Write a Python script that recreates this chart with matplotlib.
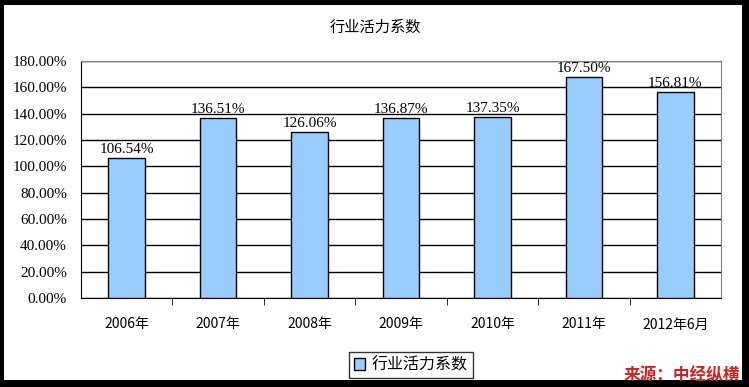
import matplotlib
matplotlib.use("Agg")
import matplotlib.pyplot as plt
from matplotlib.patches import Rectangle
from matplotlib.ticker import FuncFormatter, FixedLocator

categories = ["2006年", "2007年", "2008年", "2009年", "2010年", "2011年", "2012年6月"]
values = [106.54, 136.51, 126.06, 136.87, 137.35, 167.50, 156.81]
series_name = "行业活力系数"
title = "行业活力系数"
source = "来源：中经纵横"

cjk = ["Noto Sans CJK SC", "DejaVu Sans"]
num_font = ["Liberation Serif", "Noto Sans CJK SC"]

fig = plt.figure(figsize=(7.49, 3.87), dpi=100)
fig.patch.set_facecolor("black")
fig.add_artist(Rectangle((4/749, 7/387), 738/749, 375/387, transform=fig.transFigure,
                         facecolor="white", edgecolor="none", zorder=0))

ax = fig.add_axes([81/749, 89/387, 640/749, 237/387])
x = list(range(len(categories)))
bars = ax.bar(x, values, width=0.4, color="#99ccff", edgecolor="black", linewidth=1,
              label=series_name, zorder=3)
ax.set_xlim(-0.5, len(categories) - 0.5)
ax.set_ylim(0, 180)
ax.set_yticks(range(0, 181, 20))
ax.yaxis.set_major_formatter(FuncFormatter(lambda v, p: f"{v:.2f}%"))
ax.grid(axis="y", color="black", linewidth=1, zorder=1)
ax.set_axisbelow(True)
ax.tick_params(axis="y", length=0, labelsize=11, pad=10)
for t in ax.get_yticklabels():
    t.set_family(num_font)

ax.set_xticks(x)
ax.set_xticklabels(categories, family=cjk, fontsize=10)
ax.tick_params(axis="x", length=0, pad=14)
ax.xaxis.set_minor_locator(FixedLocator([i + 0.5 for i in range(len(categories) - 1)]))
ax.tick_params(axis="x", which="minor", length=5, direction="out", color="black")

for s in ["top", "right"]:
    ax.spines[s].set_color("#808080")
for s in ["left", "bottom"]:
    ax.spines[s].set_color("black")

for xi, v in zip(x, values):
    ax.text(xi, v + 1.5, f"{v:.2f}%", ha="center", va="bottom", fontsize=11, family=num_font)

fig.text(375/749, 1 - 27/387, title, ha="center", va="center", fontsize=11, family=cjk)

leg = ax.legend(loc="center", bbox_to_anchor=(411/749, 1 - 365/387), bbox_transform=fig.transFigure,
                prop={"family": cjk, "size": 11.5}, frameon=True, fancybox=False,
                edgecolor="black", handlelength=0.7, handleheight=0.7, handletextpad=0.4,
                borderpad=0.3)
leg.get_frame().set_linewidth(1)

fig.text(740/749, 1 - 375/387, source, ha="right", va="center", fontsize=12, color="#cc2222",
         fontweight="bold", style="italic", family=cjk)

fig.savefig("out.png", dpi=100, facecolor=fig.get_facecolor())
